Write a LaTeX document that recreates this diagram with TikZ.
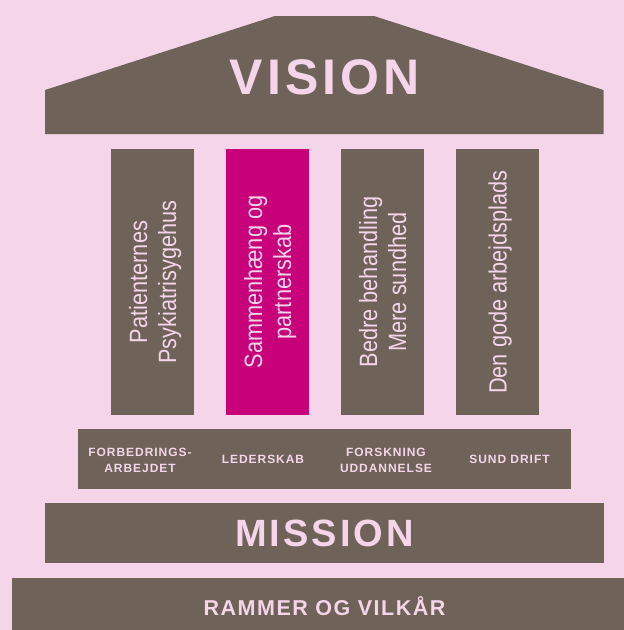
\documentclass[tikz,border=0pt]{standalone}
\usepackage{fontspec}
\setmainfont{Liberation Sans}
\newfontfamily\pillarfont[FakeStretch=0.87]{Liberation Sans}
\newfontfamily\capsfont[LetterSpace=8]{Liberation Sans}
\newfontfamily\basefont[LetterSpace=7]{Liberation Sans}
\usetikzlibrary{positioning}
\definecolor{housebg}{HTML}{F5D5EA}
\definecolor{stone}{HTML}{6E6259}
\definecolor{accent}{HTML}{C8007A}
\tikzstyle{slab}=[fill=stone,text=housebg,inner sep=0pt,align=center]
\tikzstyle{pillar}=[slab,rotate=90,minimum width=266pt,minimum height=83pt,text depth=0pt,font=\pillarfont\fontsize{25}{29}\selectfont]
\tikzstyle{topic}=[text=housebg,inner sep=0pt,align=center,font=\capsfont\bfseries\fontsize{12}{16}\selectfont]

\begin{document}
\begin{tikzpicture}[x=1pt,y=-1pt]
  \useasboundingbox[fill=housebg] (0,0) rectangle (624,630);

  % roof
  \path[fill=stone] (45,134) -- (45,90) -- (275,16) -- (374,16) -- (603.5,90) -- (603.5,134) -- cycle;
  \node(vision)[text=housebg,inner sep=0pt,font=\capsfont\bfseries\fontsize{50}{50}\selectfont] at (324.5,77) {VISION};

  % pillars
  \node(p1)[pillar] at (152.5,282) {Patienternes\\Psykiatrisygehus};
  \node(p2)[pillar,fill=accent] at (267.5,282) {Sammenhæng og\\partnerskab};
  \node(p3)[pillar] at (382.5,282) {Bedre behandling\\Mere sundhed};
  \node(p4)[pillar] at (497.5,282) {Den gode arbejdsplads};

  % band under the pillars
  \node(band)[slab,minimum width=493pt,minimum height=60pt] at (324.5,459) {};
  \node(t1)[topic] at (140,460) {FORBEDRINGS-\\ARBEJDET};
  \node(t2)[topic] at (263,459.5) {LEDERSKAB};
  \node(t3)[topic] at (386,460) {FORSKNING\\UDDANNELSE};
  \node(t4)[topic] at (509.5,459.5) {SUND DRIFT};

  \node(mission)[slab,minimum width=558.5pt,minimum height=60pt,below=14pt of band,
    font=\capsfont\bfseries\fontsize{38}{38}\selectfont]{MISSION};
  \node(base)[slab,minimum width=625pt,minimum height=60pt,below=14pt of mission,
    text height=15.4pt,text depth=0pt,font=\basefont\bfseries\fontsize{21.5}{21.5}\selectfont]{RAMMER OG VILKÅR};
\end{tikzpicture}
\end{document}
